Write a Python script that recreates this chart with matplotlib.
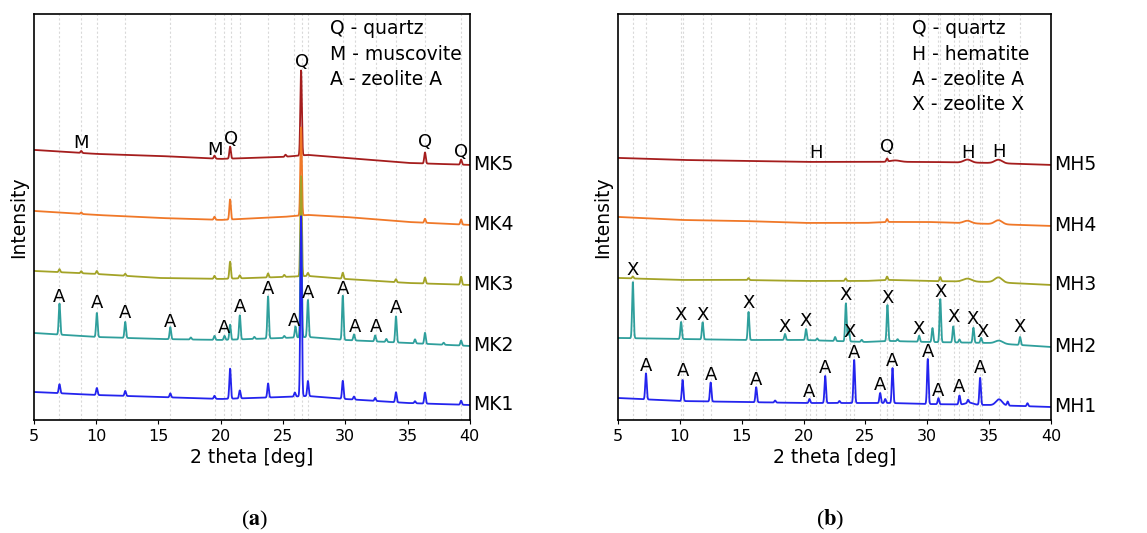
import numpy as np
import matplotlib
matplotlib.use('Agg')
from matplotlib import pyplot as plt

# baseline anchor positions (2 theta) shared by all traces
BASE_X = [5, 10, 15, 20, 25, 27, 30, 35, 40]

# ---- panel (a): MK samples ----
mk_names = ['MK5', 'MK4', 'MK3', 'MK2', 'MK1']

mk5_base = [270, 266, 264, 261, 263, 265, 262, 257, 255]
mk5_pos = [8.8, 19.5, 20.75, 25.2, 26.45, 36.4, 39.3]
mk5_int = [2, 3, 12, 2, 85, 11, 5]

mk4_base = [209, 205, 202, 200, 203, 205, 203, 198, 195]
mk4_pos = [8.8, 19.5, 20.75, 26.45, 36.4, 39.3]
mk4_int = [1.5, 3, 20, 88, 4, 5]

mk3_base = [149, 146, 142, 141, 143, 144, 141, 137, 135]
mk3_pos = [7.05, 8.8, 10.05, 12.33, 19.5, 20.75, 21.53, 23.8, 25.1, 26.45,
           27.0, 29.8, 34.07, 36.4, 39.3]
mk3_int = [3, 2, 3, 2, 3, 17, 3, 4, 2, 100, 3, 6, 3, 6, 8]

mk2_base = [87, 83, 81, 80, 82, 83, 80, 77, 74]
mk2_pos = [7.05, 10.05, 12.33, 15.95, 17.6, 19.5, 20.3, 20.75, 21.53, 22.7,
           23.8, 25.1, 26.0, 26.45, 27.0, 29.8, 30.7, 32.4, 33.3, 34.07,
           35.6, 36.4, 37.9, 39.3]
mk2_int = [31, 24, 16, 12, 2, 4, 4, 15, 24, 2, 42, 2, 11, 110, 37, 44, 6, 6,
           3, 26, 4, 11, 2, 5]

mk1_base = [28, 25, 23, 21, 23, 24, 21, 17, 15]
mk1_pos = [7.05, 10.05, 12.33, 15.95, 19.5, 20.75, 21.53, 23.8, 25.95, 26.45,
           27.0, 29.8, 30.7, 32.4, 34.07, 35.6, 36.4, 39.3]
mk1_int = [9, 7, 5, 4, 3, 30, 8, 14, 4, 180, 15, 18, 3, 3, 10, 2, 11, 4]

# ---- panel (b): MH samples ----
mh_names = ['MH5', 'MH4', 'MH3', 'MH2', 'MH1']

mh5_base = [262, 260, 259, 258, 258, 258, 258, 257, 255]
mh5_pos = [26.75]
mh5_int = [3]
mh5_broad = [(27.4, 1.5, 0.4), (33.25, 3, 0.3), (35.75, 3.5, 0.3)]

mh4_base = [203, 200, 199, 197, 197, 198, 198, 196, 194]
mh4_pos = [26.75]
mh4_int = [3]
mh4_broad = [(33.25, 2.5, 0.3), (35.75, 4, 0.3)]

mh3_base = [142, 140, 140, 139, 139, 140, 139, 138, 135]
mh3_pos = [6.2, 15.55, 23.4, 26.75, 31.05]
mh3_int = [2, 2, 2.5, 3.5, 4]
mh3_broad = [(33.25, 3, 0.35), (35.75, 5, 0.3)]

mh2_base = [82, 81, 80, 80, 78, 79, 78, 77, 73]
mh2_pos = [6.2, 10.1, 11.84, 15.55, 18.5, 20.2, 21.1, 22.55, 23.42, 23.65,
           24.7, 26.78, 27.6, 29.34, 30.42, 31.05, 32.1, 32.6, 33.73, 34.35,
           37.5]
mh2_int = [56, 17, 17, 28, 6, 11, 2, 4, 38, 12, 2, 36, 2, 6, 14, 43, 16, 3,
           15, 5, 8]
mh2_broad = [(35.8, 3, 0.3)]

mh1_base = [22, 19, 18, 17, 17, 17, 16, 15, 13]
mh1_pos = [7.26, 10.22, 12.49, 16.17, 17.7, 20.48, 21.75, 22.9, 24.09, 26.19,
           26.6, 27.19, 30.04, 30.9, 32.6, 33.3, 34.27, 36.5, 38.1]
mh1_int = [26, 21, 19, 15, 2, 4, 27, 2, 43, 10, 4, 35, 45, 6, 9, 3, 27, 4, 3]
mh1_broad = [(35.8, 6, 0.25), (33.4, 2, 0.3)]

# peak labels (letter, 2 theta, height)
labels_a = [('M', 8.8, 277), ('M', 19.5, 270), ('Q', 20.8, 281),
            ('Q', 26.5, 358), ('Q', 36.4, 278), ('Q', 39.3, 268),
            ('A', 7.05, 123), ('A', 10.05, 117), ('A', 12.33, 107),
            ('A', 15.95, 98), ('A', 20.3, 92), ('A', 21.53, 113),
            ('A', 23.8, 131), ('A', 25.9, 99), ('A', 27.0, 127),
            ('A', 29.8, 131), ('A', 30.75, 93), ('A', 32.5, 93),
            ('A', 34.07, 112)]
labels_b = [('H', 21.0, 267), ('Q', 26.73, 273), ('H', 33.27, 267),
            ('H', 35.8, 268),
            ('X', 6.2, 150), ('X', 10.1, 105), ('X', 11.84, 105),
            ('X', 15.55, 117), ('X', 18.5, 93), ('X', 20.2, 99),
            ('X', 23.4, 125), ('X', 23.75, 88), ('X', 26.78, 122),
            ('X', 29.34, 91), ('X', 31.05, 128), ('X', 32.15, 103),
            ('X', 33.7, 101), ('X', 34.45, 88), ('X', 37.5, 93),
            ('A', 7.26, 54), ('A', 10.22, 49), ('A', 12.49, 45),
            ('A', 16.17, 40), ('A', 20.48, 28), ('A', 21.75, 52),
            ('A', 24.09, 67), ('A', 26.19, 35), ('A', 27.19, 59),
            ('A', 30.04, 68), ('A', 30.9, 29), ('A', 32.6, 33),
            ('A', 34.27, 52)]

legend_a = ['Q - quartz', 'M - muscovite', 'A - zeolite A']
legend_b = ['Q - quartz', 'H - hematite', 'A - zeolite A', 'X - zeolite X']

colors = ['#a51d1d', '#f07828', '#a3a327', '#2f9f9c', '#2424ee']

tt = np.arange(5, 40.0001, 0.01)


def trace(base, pos, amp, broad=()):
    y = np.interp(tt, BASE_X, base)
    for p, a in zip(pos, amp):
        y = y + a * np.exp(-0.5 * ((tt - p) / 0.06) ** 2)
    for p, a, w in broad:
        y = y + a * np.exp(-0.5 * ((tt - p) / w) ** 2)
    return y


traces_a = [trace(mk5_base, mk5_pos, mk5_int),
            trace(mk4_base, mk4_pos, mk4_int),
            trace(mk3_base, mk3_pos, mk3_int),
            trace(mk2_base, mk2_pos, mk2_int),
            trace(mk1_base, mk1_pos, mk1_int)]
traces_b = [trace(mh5_base, mh5_pos, mh5_int, mh5_broad),
            trace(mh4_base, mh4_pos, mh4_int, mh4_broad),
            trace(mh3_base, mh3_pos, mh3_int, mh3_broad),
            trace(mh2_base, mh2_pos, mh2_int, mh2_broad),
            trace(mh1_base, mh1_pos, mh1_int, mh1_broad)]

fig = plt.figure(figsize=(11.47, 5.33), dpi=100)
ax_a = fig.add_axes([0.0296, 0.212, 0.380, 0.762])
ax_b = fig.add_axes([0.5388, 0.212, 0.3775, 0.762])


def draw_panel(ax, traces, names, labels, legend):
    for x in sorted(set(l[1] for l in labels)):
        ax.axvline(x, color='#d9d9d9', lw=0.8, ls=(0, (2, 2)), zorder=0)
    for y, name, c in zip(traces, names, colors):
        ax.plot(tt, y, color=c, lw=1.3)
        ax.text(40.25, y[-1], name, fontsize=13.5, va='center', ha='left',
                clip_on=False)
    for letter, x, y in labels:
        ax.text(x, y, letter, fontsize=13, ha='center', va='center')
    for i, line in enumerate(legend):
        ax.text(0.68, 0.963 - i * 0.062, line, fontsize=13.5,
                transform=ax.transAxes, va='center', ha='left')
    ax.set_xlim(5, 40)
    ax.set_ylim(0, 406)
    ax.set_xticks([5, 10, 15, 20, 25, 30, 35, 40])
    ax.set_yticks([])
    ax.tick_params(axis='x', labelsize=11.5, length=3)
    ax.set_xlabel('2 theta [deg]', fontsize=13.5, labelpad=3)
    ax.set_ylabel('Intensity', fontsize=13.5, labelpad=4)
    for s in ax.spines.values():
        s.set_linewidth(1.2)


draw_panel(ax_a, traces_a, mk_names, labels_a, legend_a)
draw_panel(ax_b, traces_b, mh_names, labels_b, legend_b)

plt.rcParams['mathtext.fontset'] = 'stix'
fig.text(0.222, 0.014, r'($\mathbf{a}$)', fontsize=16, ha='center',
         family='Liberation Serif')
fig.text(0.724, 0.014, r'($\mathbf{b}$)', fontsize=16, ha='center',
         family='Liberation Serif')

plt.savefig('out.png', dpi=100)
